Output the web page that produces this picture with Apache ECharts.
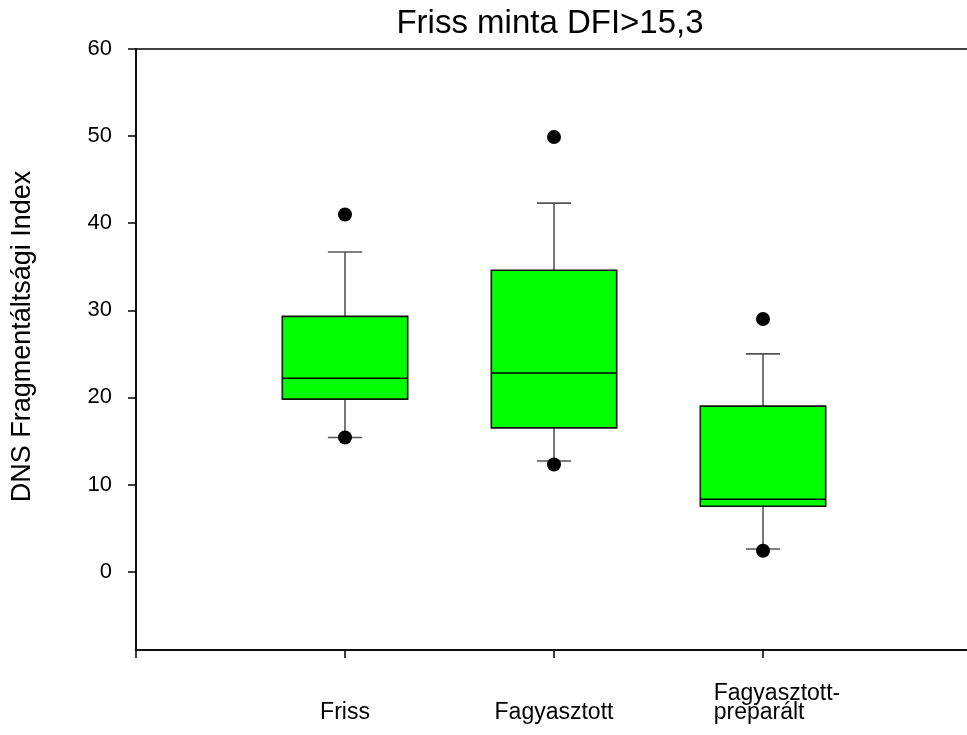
<!DOCTYPE html>
<html>
<head>
<meta charset="utf-8">
<script src="https://cdn.jsdelivr.net/npm/echarts@6/dist/echarts.min.js"></script>
<style>
  html, body { margin: 0; padding: 0; background: #fff; }
  #chart { width: 967px; height: 735px; }
</style>
</head>
<body>
<div id="chart"></div>
<script>
// Box-plot summary per sample group (DFI values)
const categories = ['Friss', 'Fagyasztott', 'Fagyasztott-\npreparált'];
const whiskerLow = [15.4, 12.7, 2.6];
const quartile1 = [19.8, 16.5, 7.5];
const medians = [22.2, 22.8, 8.3];
const quartile3 = [29.3, 34.6, 19.0];
const whiskerHigh = [36.7, 42.3, 25.0];

// Individual points drawn outside / at the whisker ends
const outlierGroup = [0, 0, 1, 1, 2, 2];
const outlierValues = [41.0, 15.4, 49.9, 12.3, 29.0, 2.4];

const yTicks = [0, 10, 20, 30, 40, 50, 60];

const FONT = '"Liberation Sans", Arial, sans-serif';

// Groups sit at x = 1, 2, 3 on a 0..4 value axis
const boxData = categories.map((c, i) => [i + 1, whiskerLow[i], quartile1[i], medians[i], quartile3[i], whiskerHigh[i]]);
const outlierData = outlierValues.map((v, k) => [outlierGroup[k] + 1, v]);

function renderBox(params, api) {
  const x = api.value(0);
  const step = api.size([1, 0])[0];
  const half = step * 0.3;
  const cap = step * 0.082;
  const pLow = api.coord([x, api.value(1)]);
  const pQ1 = api.coord([x, api.value(2)]);
  const pMed = api.coord([x, api.value(3)]);
  const pQ3 = api.coord([x, api.value(4)]);
  const pHigh = api.coord([x, api.value(5)]);
  const cx = pMed[0];
  const whisker = { stroke: '#555', lineWidth: 1.6 };
  return {
    type: 'group',
    children: [
      { type: 'line', shape: { x1: cx, y1: pQ1[1], x2: cx, y2: pLow[1] }, style: whisker },
      { type: 'line', shape: { x1: cx, y1: pQ3[1], x2: cx, y2: pHigh[1] }, style: whisker },
      { type: 'line', shape: { x1: cx - cap, y1: pLow[1], x2: cx + cap, y2: pLow[1] }, style: whisker },
      { type: 'line', shape: { x1: cx - cap, y1: pHigh[1], x2: cx + cap, y2: pHigh[1] }, style: whisker },
      {
        type: 'rect',
        shape: { x: cx - half, y: pQ3[1], width: half * 2, height: pQ1[1] - pQ3[1] },
        style: { fill: '#00ff00', stroke: '#111', lineWidth: 1.6 }
      },
      {
        type: 'line',
        shape: { x1: cx - half, y1: pMed[1], x2: cx + half, y2: pMed[1] },
        style: { stroke: '#000', lineWidth: 1.4 }
      }
    ]
  };
}

const chart = echarts.init(document.getElementById('chart'), null, { renderer: 'canvas' });

chart.setOption({
  animation: false,
  backgroundColor: '#fff',
  title: {
    text: 'Friss minta DFI>15,3',
    left: 545,
    top: 2,
    textAlign: 'center',
    textStyle: { fontFamily: FONT, fontSize: 33, fontWeight: 'normal', color: '#000' }
  },
  grid: {
    left: 136,
    top: 49,
    width: 836,
    height: 601,
    outerBoundsMode: 'none',
    containLabel: false,
    show: true,
    borderColor: '#000',
    borderWidth: 1.5,
    backgroundColor: 'transparent'
  },
  xAxis: {
    type: 'value',
    min: 0,
    max: 4,
    interval: 1,
    splitLine: { show: false },
    axisLine: { show: true, onZero: false, lineStyle: { color: '#000', width: 1.5 } },
    axisTick: { show: true, length: 8, lineStyle: { color: '#000', width: 1.5 } },
    axisLabel: {
      customValues: [1, 2, 3],
      formatter: (v) => {
        const name = categories[v - 1] || '';
        if (name.indexOf('\n') >= 0) {
          return name.split('\n').map(s => '{l|' + s + '}').join('\n');
        }
        return name;
      },
      margin: 72,
      verticalAlign: 'bottom',
      lineHeight: 19,
      fontFamily: FONT,
      fontSize: 23,
      color: '#000',
      rich: {
        l: { align: 'left', fontFamily: FONT, fontSize: 23, color: '#000', lineHeight: 19, padding: [0, 0, 0, 28] }
      }
    }
  },
  yAxis: {
    type: 'value',
    min: -9,
    max: 60,
    name: 'DNS Fragmentáltsági Index',
    nameLocation: 'middle',
    nameGap: 100,
    nameTextStyle: { fontFamily: FONT, fontSize: 27, color: '#000', padding: [0, 0, 0, 26] },
    splitLine: { show: false },
    axisLine: { show: true, onZero: false, lineStyle: { color: '#000', width: 1.5 } },
    axisTick: { show: true, length: 8, customValues: yTicks, lineStyle: { color: '#000', width: 1.5 } },
    axisLabel: {
      customValues: yTicks,
      margin: 24,
      fontFamily: FONT,
      fontSize: 22,
      color: '#000'
    }
  },
  series: [
    {
      type: 'custom',
      renderItem: renderBox,
      encode: { x: 0, y: [1, 2, 3, 4, 5] },
      data: boxData,
      z: 2
    },
    {
      type: 'scatter',
      symbol: 'circle',
      symbolSize: 14,
      itemStyle: { color: '#000', opacity: 1 },
      data: outlierData,
      z: 3
    }
  ]
});
</script>
</body>
</html>
